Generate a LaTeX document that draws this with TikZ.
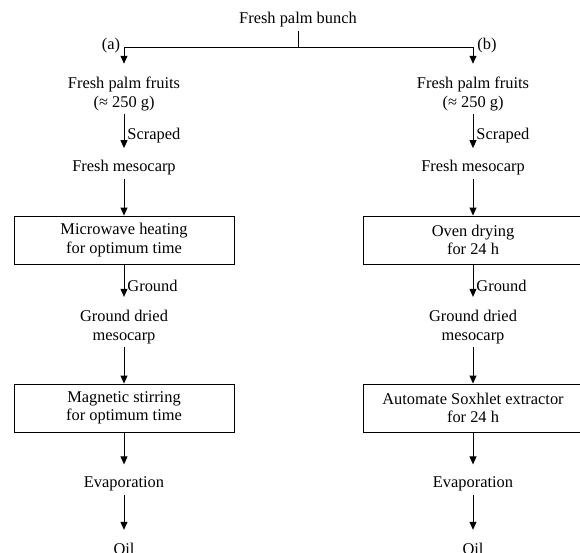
\documentclass[tikz,border=0pt]{standalone}
\usepackage{fontspec}
\setmainfont{Liberation Serif}
\usetikzlibrary{arrows.meta,positioning}

\begin{document}
\begin{tikzpicture}[x=1pt, y=-1pt, line width=0.9pt,
    txt/.style={inner sep=3pt, align=center, font=\fontsize{16.4}{18.5}\selectfont},
    stage/.style={txt, rectangle, draw, minimum width=220pt, minimum height=48pt},
    flow/.style={-{Triangle[length=8pt,width=7pt]}},
    lbl/.style={right, inner sep=3pt, font=\fontsize{16.4}{18.5}\selectfont}]
\useasboundingbox (0,0) rectangle (580,552);
% top split
\node[txt] (bunch) at (298,20) {Fresh palm bunch};
\coordinate (split) at (298,47);
\coordinate (jA) at (124,47);
\coordinate (jB) at (473,47);
\node[txt] (tagA) at (111,46) {(a)};
\node[txt] (tagB) at (487,46) {(b)};
\draw (bunch.south) -- (split);
\draw (jA) -- (jB);
% column (a)
\node[txt] (fruitA) at (124,94) {Fresh palm fruits\\(≈ 250 g)};
\node[txt] (mesoA) at (124,168) {Fresh mesocarp};
\node[stage] (heatA) at (124,240) {Microwave heating\\for optimum time};
\node[txt] (dryA) at (124,327) {Ground dried\\mesocarp};
\node[stage] (stirA) at (124,408) {Magnetic stirring\\for optimum time};
\node[txt] (evapA) at (124,484) {Evaporation};
\node[txt] (oilA) at (124,549) {Oil};
% column (b)
\node[txt] (fruitB) at (473,94) {Fresh palm fruits\\(≈ 250 g)};
\node[txt] (mesoB) at (473,168) {Fresh mesocarp};
\node[stage] (heatB) at (473,240) {Oven drying\\for 24 h};
\node[txt] (dryB) at (473,327) {Ground dried\\mesocarp};
\node[stage] (stirB) at (473,408) {Automate Soxhlet extractor\\for 24 h};
\node[txt] (evapB) at (473,484) {Evaporation};
\node[txt] (oilB) at (473,549) {Oil};
% arrows
\foreach \c in {A,B} {
  \draw[flow, shorten >=10pt] (j\c) -- (fruit\c.north);
  \draw[flow, shorten >=9pt] (fruit\c.south) -- node[lbl] {Scraped} (meso\c.north);
  \draw[flow] (meso\c.south) -- (heat\c.north);
  \draw[flow, shorten >=10pt] (heat\c.south) -- node[lbl] {Ground} (dry\c.north);
  \draw[flow] (dry\c.south) -- (stir\c.north);
  \draw[flow, shorten >=9pt] (stir\c.south) -- (evap\c.north);
  \draw[flow, shorten >=10pt] (evap\c.south) -- (oil\c.north);
}
\end{tikzpicture}
\end{document}
